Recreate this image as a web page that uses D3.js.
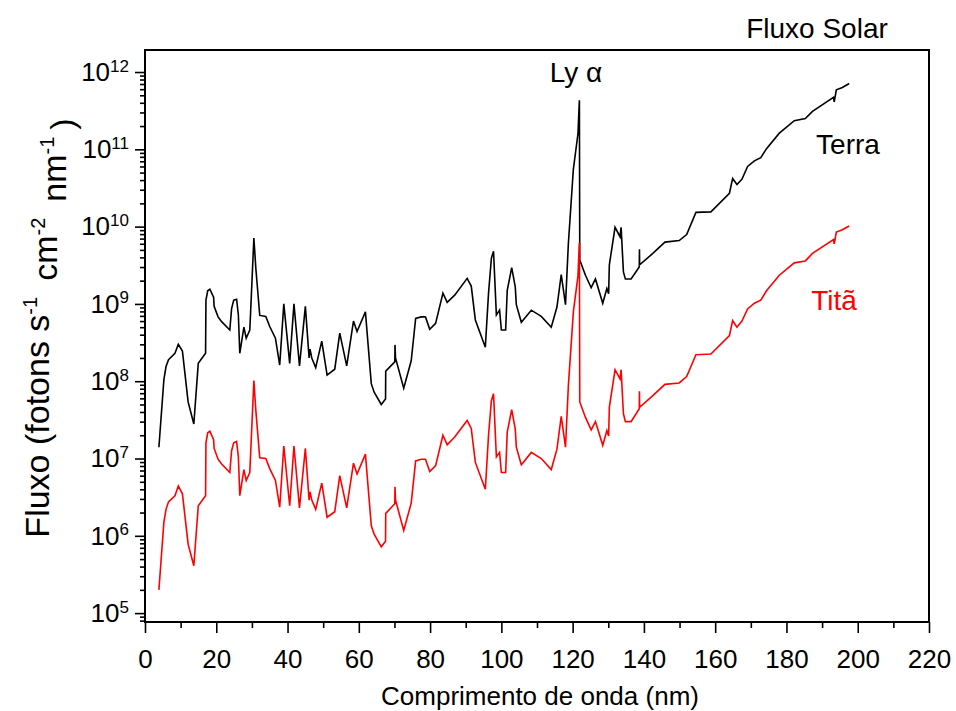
<!DOCTYPE html>
<html>
<head>
<meta charset="utf-8">
<script src="https://cdn.jsdelivr.net/npm/d3@7"></script>
<style>
  body { margin: 0; background: #fff; }
  svg { font-family: "Liberation Sans", Arial, sans-serif; }
</style>
</head>
<body>
<svg id="chart" width="956" height="711"></svg>
<script>
// wavelength (nm)
const wavelengths = [3.9, 5.3, 5.9, 6.6, 8.4, 9.35, 10.5, 12.1, 13.7, 14.95, 17.0, 17.1, 17.6, 18.2, 19.25, 19.4, 20.5, 21.5, 23.8, 24.3, 24.9, 25.7, 26.2, 26.6, 27.75, 28.4, 29.4, 29.6, 30.55, 31.1, 32.2, 33.9, 35.0, 36.6, 37.8, 38.95, 40.6, 41.8, 43.35, 45.0, 46.05, 46.3, 46.8, 47.9, 49.6, 51.1, 53.25, 54.65, 56.6, 58.5, 59.5, 61.85, 63.5, 64.3, 66.3, 67.5, 67.55, 70.1, 70.15, 70.3, 72.6, 74.7, 75.95, 77.5, 78.7, 79.9, 81.55, 83.6, 84.8, 86.9, 90.4, 91.55, 92.7, 95.5, 96.4, 97.2, 97.8, 98.6, 99.5, 100.0, 101.2, 101.65, 102.9, 103.9, 104.2, 105.6, 108.4, 111.2, 114.0, 115.6, 116.8, 118.0, 118.8, 120.2, 121.5, 121.8, 121.9, 122.0, 123.6, 125.2, 126.4, 128.45, 129.6, 130.1, 130.3, 131.9, 133.3, 133.6, 134.25, 134.8, 136.4, 138.7, 138.75, 138.8, 142.5, 145.9, 149.9, 152.0, 154.6, 158.8, 164.0, 164.9, 166.1, 167.5, 169.1, 171.0, 172.8, 174.4, 178.0, 182.2, 185.3, 187.3, 193.2, 193.4, 194.0, 195.7, 197.6];

// solar flux at Earth (photons s-1 cm-2 nm-1)
const terra = [1.4e7, 1.05e8, 1.55e8, 1.9e8, 2.3e8, 3.0e8, 2.45e8, 5.4e7, 2.8e7, 1.7e8, 2.3e8, 1.12e9, 1.48e9, 1.55e9, 1.22e9, 9.3e8, 6.8e8, 5.9e8, 4.6e8, 8.7e8, 1.12e9, 1.15e9, 7.2e8, 2.3e8, 5.0e8, 3.6e8, 4.6e8, 7.2e8, 7.1e9, 2.9e9, 7.1e8, 6.9e8, 5.1e8, 3.6e8, 1.62e8, 1.0e9, 1.7e8, 1.0e9, 1.58e8, 9.3e8, 2.0e8, 2.6e8, 2.0e8, 1.5e8, 3.3e8, 1.2e8, 1.43e8, 4.2e8, 1.58e8, 6.0e8, 4.4e8, 7.9e8, 9.3e7, 7.2e7, 5.0e7, 5.9e7, 1.35e8, 1.78e8, 2.95e8, 2.0e8, 8.1e7, 1.84e8, 6.5e8, 6.8e8, 6.8e8, 4.7e8, 5.6e8, 1.38e9, 1.05e9, 1.3e9, 2.14e9, 1.7e9, 6.2e8, 2.75e8, 1.38e9, 3.9e9, 4.8e9, 7.2e8, 8.3e8, 4.6e8, 4.6e8, 1.5e9, 2.95e9, 1.66e9, 9.8e8, 5.8e8, 8.3e8, 6.9e8, 5.0e8, 9.1e8, 2.4e9, 9.8e8, 6.0e9, 5.5e10, 1.6e11, 3.5e11, 4.3e11, 3.7e9, 2.35e9, 1.62e9, 2.1e9, 1.02e9, 1.58e9, 1.35e9, 3.2e9, 9.8e9, 7.4e9, 9.8e9, 2.6e9, 2.1e9, 2.1e9, 3.0e9, 5.1e9, 3.2e9, 4.5e9, 6.3e9, 6.6e9, 7.9e9, 1.53e10, 1.55e10, 2.7e10, 4.2e10, 3.5e10, 4.1e10, 6.0e10, 7.1e10, 7.8e10, 1.02e11, 1.62e11, 2.35e11, 2.5e11, 3.1e11, 4.7e11, 4.1e11, 5.9e11, 6.3e11, 7.1e11];

// solar flux at Titan
const tita = [2.0e5, 1.5e6, 2.2e6, 2.75e6, 3.3e6, 4.4e6, 3.5e6, 7.8e5, 4.1e5, 2.45e6, 3.3e6, 1.6e7, 2.15e7, 2.25e7, 1.75e7, 1.35e7, 9.8e6, 8.5e6, 6.6e6, 1.26e7, 1.6e7, 1.66e7, 1.05e7, 3.3e6, 7.2e6, 5.2e6, 6.6e6, 1.05e7, 1.02e8, 4.2e7, 1.02e7, 1.0e7, 7.4e6, 5.2e6, 2.35e6, 1.45e7, 2.45e6, 1.45e7, 2.3e6, 1.35e7, 2.9e6, 3.7e6, 2.9e6, 2.2e6, 4.8e6, 1.74e6, 2.05e6, 6.0e6, 2.3e6, 8.7e6, 6.3e6, 1.14e7, 1.35e6, 1.05e6, 7.2e5, 8.5e5, 1.95e6, 2.6e6, 4.3e6, 2.9e6, 1.17e6, 2.65e6, 9.3e6, 9.8e6, 9.8e6, 6.8e6, 8.1e6, 2.0e7, 1.5e7, 1.9e7, 3.1e7, 2.45e7, 8.9e6, 4.0e6, 2.0e7, 5.6e7, 6.9e7, 1.05e7, 1.2e7, 6.6e6, 6.6e6, 2.2e7, 4.3e7, 2.4e7, 1.4e7, 8.3e6, 1.2e7, 1.0e7, 7.2e6, 1.32e7, 3.5e7, 1.4e7, 8.7e7, 7.9e8, 2.3e9, 5.1e9, 6.2e9, 5.4e7, 3.4e7, 2.35e7, 3.0e7, 1.48e7, 2.3e7, 1.95e7, 4.6e7, 1.41e8, 1.07e8, 1.41e8, 3.8e7, 3.0e7, 3.0e7, 4.4e7, 7.4e7, 4.6e7, 6.5e7, 9.1e7, 9.5e7, 1.15e8, 2.2e8, 2.25e8, 3.9e8, 6.1e8, 5.0e8, 6.0e8, 8.6e8, 1.02e9, 1.12e9, 1.48e9, 2.35e9, 3.4e9, 3.6e9, 4.5e9, 6.8e9, 6.0e9, 8.5e9, 9.1e9, 1.02e10];

const xTicks = [0, 20, 40, 60, 80, 100, 120, 140, 160, 180, 200, 220];
const yExponents = [5, 6, 7, 8, 9, 10, 11, 12];

const svg = d3.select("#chart");
const margin = { top: 50, right: 27, bottom: 89, left: 145 };
const width = +svg.attr("width") - margin.left - margin.right;
const height = +svg.attr("height") - margin.top - margin.bottom;

const g = svg.append("g").attr("transform", `translate(${margin.left},${margin.top})`);

const x = d3.scaleLinear().domain([0, 220]).range([0, width]);
const y = d3.scaleLog().domain([Math.pow(10, 4.885), Math.pow(10, 12.285)]).range([height, 0]);

// minor ticks
const xMinor = d3.range(10, 220, 20);
const yMinor = [];
for (let e = 4; e <= 12; e++) {
  for (let m = 2; m <= 9; m++) {
    const v = m * Math.pow(10, e);
    if (v > y.domain()[0] && v < y.domain()[1]) yMinor.push(v);
  }
}

g.append("g")
  .attr("transform", `translate(0,${height})`)
  .call(d3.axisBottom(x).tickValues(xMinor).tickSize(6).tickSizeOuter(0).tickFormat(""))
  .call((a) => a.select(".domain").remove());

const xAxis = g.append("g")
  .attr("transform", `translate(0,${height})`)
  .call(d3.axisBottom(x).tickValues(xTicks).tickSize(11).tickSizeOuter(0).tickPadding(17).tickFormat(d3.format("d")));
xAxis.select(".domain").remove();
xAxis.selectAll("text").style("font-size", "26px").attr("fill", "#000");

g.append("g")
  .call(d3.axisLeft(y).tickValues(yMinor).tickSize(5).tickSizeOuter(0).tickFormat(""))
  .call((a) => a.select(".domain").remove());

const yAxis = g.append("g")
  .call(d3.axisLeft(y).tickValues(yExponents.map((e) => Math.pow(10, e))).tickSize(10).tickSizeOuter(0).tickPadding(6).tickFormat(""));
yAxis.select(".domain").remove();
yAxis.selectAll(".tick text").each(function (d) {
  const t = d3.select(this).style("font-size", "26px").attr("fill", "#000");
  t.append("tspan").text("10");
  t.append("tspan").attr("dy", "-0.55em").style("font-size", "17px").text(Math.round(Math.log10(d)));
});

g.selectAll(".tick line").attr("stroke", "#000").attr("stroke-width", 1.6);

// frame
g.append("rect")
  .attr("width", width)
  .attr("height", height)
  .attr("fill", "none")
  .attr("stroke", "#000")
  .attr("stroke-width", 2);

// lines
const line = (vals) => d3.line()
  .x((d, i) => x(wavelengths[i]))
  .y((d) => y(d))(vals);

g.append("path").attr("d", line(terra)).attr("fill", "none").attr("stroke", "#000").attr("stroke-width", 1.6);
g.append("path").attr("d", line(tita)).attr("fill", "none").attr("stroke", "#ff0000").attr("stroke-width", 1.6);

// annotations
svg.append("text").attr("x", 817).attr("y", 38).attr("text-anchor", "middle").style("font-size", "28px").text("Fluxo Solar");
svg.append("text").attr("x", 576).attr("y", 82).attr("text-anchor", "middle").style("font-size", "28px").text("Ly α");
svg.append("text").attr("x", 848).attr("y", 154).attr("text-anchor", "middle").style("font-size", "28px").text("Terra");
svg.append("text").attr("x", 834).attr("y", 310).attr("text-anchor", "middle").style("font-size", "28px").attr("fill", "#ff0000").text("Titã");

// axis titles
svg.append("text").attr("x", 540).attr("y", 705).attr("text-anchor", "middle").style("font-size", "26px").text("Comprimento de onda (nm)");

const yTitle = svg.append("text")
  .attr("transform", "translate(49,328) rotate(-90)")
  .attr("text-anchor", "middle")
  .style("font-size", "34px");
yTitle.append("tspan").text("Fluxo (fotons s");
yTitle.append("tspan").attr("dy", "-0.6em").style("font-size", "20px").text("-1");
yTitle.append("tspan").attr("dy", "0.6em").attr("dx", 16).text("cm");
yTitle.append("tspan").attr("dy", "-0.6em").style("font-size", "20px").text("-2");
yTitle.append("tspan").attr("dy", "0.6em").attr("dx", 16).text("nm");
yTitle.append("tspan").attr("dy", "-0.6em").style("font-size", "20px").text("-1");
yTitle.append("tspan").attr("dy", "0.6em").attr("dx", 7).text(")");
</script>
</body>
</html>
